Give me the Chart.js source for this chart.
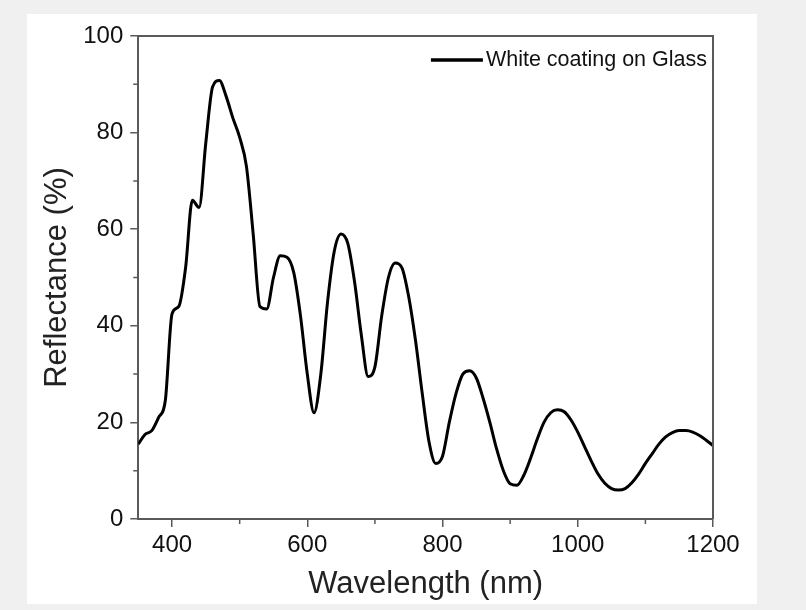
<!DOCTYPE html>
<html>
<head>
<meta charset="utf-8">
<script src="https://cdn.jsdelivr.net/npm/chart.js@4"></script>
<style>
  html, body { margin: 0; padding: 0; background: #f0f0f0; }
  #panel {
    position: absolute; left: 27px; top: 14px;
    width: 730px; height: 590px; background: #ffffff;
  }
</style>
</head>
<body>
<div id="panel"><canvas id="chart" width="730" height="590"></canvas></div>
<script>
// 反射スペクトル（白色コーティング / ガラス）
const wavelengths = [
  350, 360, 370, 380, 390, 400, 410, 420, 430, 440,
  450, 460, 470, 480, 490, 500, 510, 520, 530, 540,
  550, 560, 570, 580, 590, 600, 610, 620, 630, 640,
  650, 660, 670, 680, 690, 700, 710, 720, 730, 740,
  750, 760, 770, 780, 790, 800, 810, 820, 830, 840,
  850, 860, 870, 880, 890, 900, 910, 920, 930, 940,
  950, 960, 970, 980, 990, 1000, 1010, 1020, 1030, 1040,
  1050, 1060, 1070, 1080, 1090, 1100, 1110, 1120, 1130, 1140,
  1150, 1160, 1170, 1180, 1190, 1200
];
const reflectance = [
  15.5, 17.5, 18.3, 21, 24.5, 42.5, 44, 52, 66, 64.5,
  78, 89.5, 90.8, 87.5, 83, 79, 73, 59, 44, 43.5,
  50, 54.5, 54.2, 51, 42, 30, 22, 30, 45, 55.5,
  59, 57, 49, 38, 29.5, 31.5, 42, 50, 53, 52,
  46, 37, 26, 16, 11.5, 13, 20, 26, 30, 30.7,
  29.2, 25, 20, 14.5, 10, 7.3, 7, 9, 12.5, 16.5,
  20, 22, 22.6, 22.2, 20.5, 18, 15, 12, 9.3, 7.4,
  6.3, 6, 6.3, 7.5, 9.3, 11.5, 13.5, 15.5, 17, 17.9,
  18.3, 18.3, 18, 17.3, 16.3, 15.2
];
const seriesLabel = "White coating on Glass";
const xTicks = [400, 600, 800, 1000, 1200];
const xMinorTicks = [500, 700, 900, 1100];
const yTicks = [0, 20, 40, 60, 80, 100];
const yMinorTicks = [10, 30, 50, 70, 90];

const AXIS_COLOR = "#5a5a5a";
const FONT = "'Liberation Sans', Arial, sans-serif";

// 枠線（上・右）、副目盛り、凡例（グラフ内右上）
const framePlugin = {
  id: "frame",
  afterDraw(chart) {
    const { ctx, chartArea: a, scales } = chart;
    ctx.save();
    ctx.strokeStyle = AXIS_COLOR;
    ctx.lineWidth = 2;
    ctx.beginPath();
    ctx.moveTo(a.left, a.top);
    ctx.lineTo(a.right, a.top);
    ctx.lineTo(a.right, a.bottom);
    ctx.stroke();
    ctx.lineWidth = 1.5;
    ctx.beginPath();
    xMinorTicks.forEach(v => {
      const px = scales.x.getPixelForValue(v);
      ctx.moveTo(px, a.bottom);
      ctx.lineTo(px, a.bottom + 5);
    });
    yMinorTicks.forEach(v => {
      const py = scales.y.getPixelForValue(v);
      ctx.moveTo(a.left, py);
      ctx.lineTo(a.left - 5, py);
    });
    ctx.stroke();

    // 凡例
    const ds = chart.data.datasets[0];
    ctx.font = "21.5px " + FONT;
    ctx.fillStyle = "#111";
    ctx.textAlign = "right";
    ctx.textBaseline = "middle";
    const tx = a.right - 6;
    const ty = a.top + 24;
    ctx.fillText(ds.label, tx, ty);
    const tw = ctx.measureText(ds.label).width;
    ctx.strokeStyle = ds.borderColor;
    ctx.lineWidth = 3.5;
    ctx.beginPath();
    ctx.moveTo(tx - tw - 3, ty);
    ctx.lineTo(tx - tw - 55, ty);
    ctx.stroke();
    ctx.restore();
  },
};

const ctx = document.getElementById("chart").getContext("2d");
new Chart(ctx, {
  type: "line",
  data: {
    datasets: [
      {
        label: seriesLabel,
        data: wavelengths.map((w, i) => ({ x: w, y: reflectance[i] })),
        borderColor: "#000000",
        backgroundColor: "#000000",
        borderWidth: 3,
        pointRadius: 0,
        cubicInterpolationMode: "monotone",
        fill: false,
      },
    ],
  },
  options: {
    responsive: false,
    animation: false,
    layout: { padding: { left: 12, right: 44, top: 22, bottom: 1 } },
    plugins: {
      tooltip: { enabled: false },
      legend: { display: false },
    },
    scales: {
      x: {
        type: "linear",
        min: 350,
        max: 1200,
        afterBuildTicks: scale => { scale.ticks = xTicks.map(v => ({ value: v })); },
        grid: { drawOnChartArea: false, drawTicks: true, tickLength: 8, color: AXIS_COLOR, lineWidth: 1.5 },
        border: { display: true, color: AXIS_COLOR, width: 2 },
        ticks: {
          color: "#111", padding: 4, maxRotation: 0,
          font: { family: FONT, size: 24 },
          callback: v => String(v),
        },
        title: {
          display: true,
          text: "Wavelength (nm)",
          color: "#222",
          padding: { top: 2, bottom: 0 },
          font: { family: FONT, size: 31 },
        },
      },
      y: {
        min: 0,
        max: 100,
        afterBuildTicks: scale => { scale.ticks = yTicks.map(v => ({ value: v })); },
        grid: { drawOnChartArea: false, drawTicks: true, tickLength: 8, color: AXIS_COLOR, lineWidth: 1.5 },
        border: { display: true, color: AXIS_COLOR, width: 2 },
        ticks: {
          color: "#111", padding: 7,
          font: { family: FONT, size: 24 },
          callback: v => String(v),
        },
        title: {
          display: true,
          text: "Reflectance (%)",
          color: "#222",
          padding: { top: 0, bottom: 0 },
          font: { family: FONT, size: 31 },
        },
      },
    },
  },
  plugins: [framePlugin],
});
</script>
</body>
</html>
